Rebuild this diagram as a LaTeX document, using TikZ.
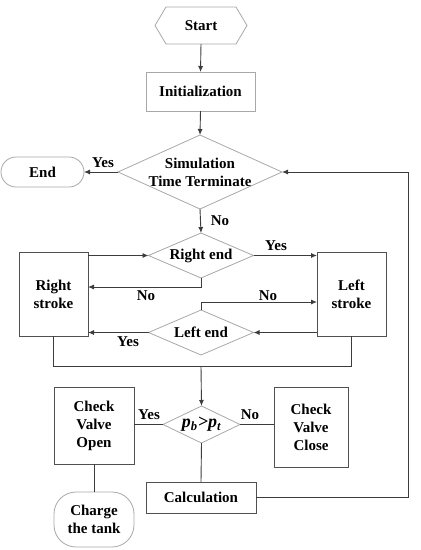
\documentclass[tikz,border=0pt]{standalone}
\usepackage{fontspec}
\setmainfont{Liberation Serif}
\usetikzlibrary{arrows.meta,shapes.geometric,shapes.misc}
\definecolor{lightb}{HTML}{A8A8A8}
\definecolor{darkb}{HTML}{505050}
\definecolor{linec}{HTML}{3C3C3C}
\tikzset{
  every node/.style={font=\fontsize{15}{18}\selectfont\bfseries, align=center, text=black},
  lbox/.style={draw=lightb, line width=0.8pt, rectangle, inner sep=0pt, outer sep=0pt},
  dbox/.style={draw=darkb, line width=0.9pt, rectangle, inner sep=0pt, outer sep=0pt},
  diam/.style={draw=lightb, line width=0.8pt, diamond, inner sep=0pt, outer sep=0pt},
  wire/.style={draw=linec, line width=0.9pt},
  arr/.style={wire, -{Latex[length=6pt,width=5pt]}},
  lab/.style={inner sep=0pt},
}
\begin{document}
\begin{tikzpicture}[x=1pt,y=-1pt]
\useasboundingbox (0,0) rectangle (421,550);
% nodes
\node[inner sep=0pt, outer sep=0pt, minimum width=92pt, minimum height=37pt] (start) at (201,25.5) {Start};
\draw[draw=lightb, line width=0.8pt] (start.west) -- ([xshift=11pt]start.north west) -- ([xshift=-11pt]start.north east) -- (start.east) -- ([xshift=-11pt]start.south east) -- ([xshift=11pt]start.south west) -- cycle;
\node[lbox, minimum width=109pt, minimum height=39pt] (init) at (200.5,91.5) {Initialization};
\node[diam, minimum width=164pt, minimum height=74pt, label={center:Simulation\\Time Terminate}] (sim) at (200,172) {};
\node[draw=lightb, line width=0.8pt, rounded rectangle, inner sep=0pt, outer sep=0pt, minimum width=83pt, minimum height=30pt] (end) at (42.5,172) {End};
\node[diam, minimum width=105pt, minimum height=45pt, label={center:Right end}] (rend) at (201,255.5) {};
\node[diam, minimum width=105pt, minimum height=45pt, label={center:Left end}] (lend) at (201,332.5) {};
\node[dbox, minimum width=69pt, minimum height=84pt] (rstroke) at (53.5,294) {Right\\stroke};
\node[dbox, minimum width=69pt, minimum height=84pt] (lstroke) at (351.5,294) {Left\\stroke};
\node[diam, minimum width=77pt, minimum height=37pt, label={[font=\fontsize{18}{20}\selectfont\bfseries]center:{\itshape p\textsubscript{b}>p\textsubscript{t}}}] (pcmp) at (201.5,424.5) {};
\node[dbox, minimum width=80pt, minimum height=77pt] (cvo) at (94,425.5) {Check\\Valve\\Open};
\node[dbox, minimum width=74pt, minimum height=80pt] (cvc) at (311,427) {Check\\Valve\\Close};
\node[dbox, minimum width=110pt, minimum height=31pt] (calc) at (201,497.5) {Calculation};
\node[lbox, rounded corners=22pt, minimum width=80pt, minimum height=55pt] (charge) at (94,519.5) {Charge\\the tank};
\coordinate (merge) at (201,366);
\coordinate (rt) at (408,172);
% connectors
\draw[arr] (start.south) -- (init.north);
\draw[arr] (init.south) -- (sim.north);
\draw[arr] (sim.west) -- (end.east);
\node[lab] at (103,163) {Yes};
\draw[arr] (sim.south) -- (rend.north);
\node[lab] at (220,221) {No};
\draw[arr] (rstroke.east |- rend.west) -- (rend.west);
\draw[arr] (rend.east) -- (lstroke.west |- rend.east);
\node[lab] at (276,246) {Yes};
\draw[arr] (rend.south) |- ([yshift=7pt]rstroke.east);
\node[lab] at (146,296) {No};
\draw[arr] (lend.north) |- ([yshift=-8pt]lstroke.west);
\node[lab] at (268,296) {No};
\draw[arr] (lstroke.west |- lend.east) -- (lend.east);
\draw[arr] (lend.west) -- (rstroke.east |- lend.west);
\node[lab] at (128,342) {Yes};
\draw[wire] (rstroke.south) |- (lstroke.south |- merge) -- (lstroke.south);
\draw[arr] (merge) -- (pcmp.north);
\draw[wire] (pcmp.west) -- (cvo.east |- pcmp.west);
\node[lab] at (149,415) {Yes};
\draw[wire] (pcmp.east) -- (cvc.west |- pcmp.east);
\node[lab] at (250,415) {No};
\draw[wire] (pcmp.south) -- (calc.north);
\draw[wire] (cvo.south) -- (charge.north);
\draw[arr] (calc.east) -| (rt) -- (sim.east);
\end{tikzpicture}
\end{document}
